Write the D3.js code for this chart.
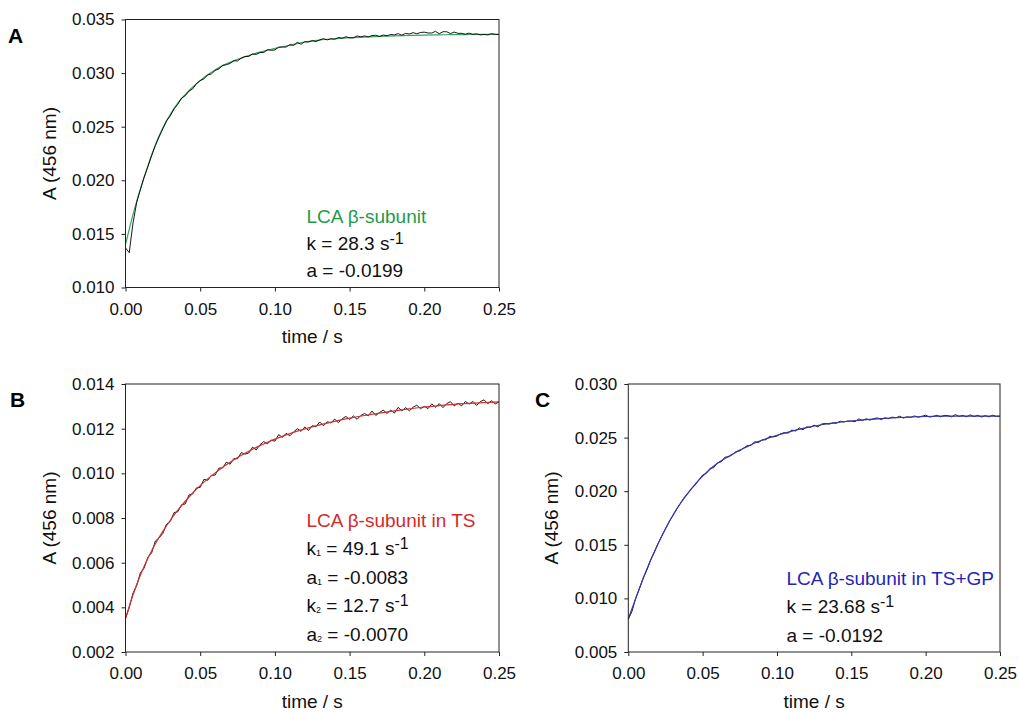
<!DOCTYPE html>
<html>
<head>
<meta charset="utf-8">
<script src="https://cdn.jsdelivr.net/npm/d3@7/dist/d3.min.js"></script>
<style>
  body { margin: 0; background: #fff; }
  svg { display: block; font-family: "Liberation Sans", Arial, sans-serif; }
</style>
</head>
<body>
<script>
// tick values
var xTicks  = [0.00, 0.05, 0.10, 0.15, 0.20, 0.25];
var yTicksA = [0.010, 0.015, 0.020, 0.025, 0.030, 0.035];
var yTicksB = [0.002, 0.004, 0.006, 0.008, 0.010, 0.012, 0.014];
var yTicksC = [0.005, 0.010, 0.015, 0.020, 0.025, 0.030];

// raw traces are sampled every 2.5 ms from t = 0
var rawStep = 0.0025;

var rawA = [.01370,.01325,.01600,.01795,.01915,.02030,.02128,.02232,.02325,.02405,
            .02481,.02555,.02602,.02666,.02709,.02767,.02789,.02832,.02853,.02902,
            .02930,.02946,.02983,.02992,.03025,.03039,.03072,.03078,.03090,.03116,
            .03113,.03140,.03155,.03155,.03179,.03174,.03192,.03192,.03219,.03213,
            .03216,.03242,.03243,.03243,.03266,.03258,.03287,.03269,.03293,.03290,
            .03303,.03294,.03310,.03321,.03310,.03321,.03316,.03332,.03325,.03339,
            .03329,.03329,.03347,.03338,.03347,.03338,.03350,.03353,.03342,.03355,
            .03348,.03360,.03356,.03368,.03354,.03370,.03365,.03377,.03367,.03379,
            .03382,.03374,.03374,.03390,.03367,.03386,.03386,.03368,.03383,.03371,
            .03371,.03363,.03373,.03362,.03366,.03356,.03361,.03356,.03368,.03361,
            .03360];

var rawB = [.00350,.00399,.00463,.00498,.00555,.00576,.00625,.00644,.00697,.00711,
            .00731,.00773,.00785,.00824,.00828,.00859,.00863,.00903,.00908,.00935,
            .00937,.00973,.00969,.00991,.00992,.01023,.01024,.01050,.01041,.01066,
            .01065,.01093,.01086,.01091,.01117,.01105,.01128,.01142,.01132,.01149,
            .01144,.01173,.01161,.01179,.01168,.01185,.01200,.01188,.01207,.01192,
            .01213,.01209,.01230,.01213,.01231,.01226,.01243,.01227,.01244,.01255,
            .01241,.01257,.01242,.01259,.01268,.01257,.01279,.01259,.01272,.01283,
            .01268,.01283,.01270,.01295,.01280,.01294,.01280,.01296,.01305,.01289,
            .01300,.01290,.01311,.01296,.01312,.01294,.01312,.01321,.01302,.01314,
            .01302,.01322,.01310,.01322,.01304,.01321,.01329,.01312,.01325,.01311,
            .01320];

var rawC = [.00805,.00880,.01002,.01092,.01190,.01266,.01358,.01430,.01512,.01580,
            .01649,.01717,.01772,.01832,.01885,.01939,.01978,.02022,.02059,.02106,
            .02151,.02166,.02213,.02220,.02265,.02274,.02317,.02321,.02341,.02370,
            .02376,.02402,.02425,.02426,.02462,.02453,.02479,.02480,.02511,.02506,
            .02514,.02536,.02546,.02542,.02570,.02562,.02591,.02574,.02600,.02596,
            .02616,.02600,.02626,.02632,.02626,.02636,.02634,.02652,.02645,.02655,
            .02654,.02649,.02674,.02660,.02676,.02663,.02676,.02684,.02669,.02684,
            .02677,.02691,.02685,.02699,.02682,.02694,.02689,.02702,.02690,.02699,
            .02709,.02692,.02697,.02708,.02693,.02707,.02705,.02693,.02714,.02698,
            .02707,.02694,.02712,.02696,.02708,.02692,.02705,.02693,.02709,.02697,
            .02700];

// fitted curves
var fitTimes = [0,0.005,0.010,0.015,0.020,0.025,0.030,0.035,0.040,0.045,0.050,
                0.055,0.060,0.065,0.070,0.075,0.080,0.085,0.090,0.095,0.100,
                0.11,0.12,0.13,0.14,0.15,0.16,0.17,0.18,0.19,0.20,0.21,0.22,0.23,0.24,0.25];
var fitA = [.01400,.01680,.01920,.02135,.02330,.02490,.02615,.02720,.02800,.02870,.02930,
            .02985,.03030,.03070,.03100,.03128,.03152,.03175,.03195,.03213,.03230,
            .03260,.03290,.03308,.03320,.03330,.03336,.03342,.03347,.03351,.03355,
            .03357,.03359,.03360,.03361,.03362];
var fitB = [.00350,.00455,.00545,.00620,.00685,.00740,.00790,.00835,.00875,.00912,.00945,
            .00975,.01002,.01027,.01050,.01071,.01090,.01108,.01124,.01139,.01153,
            .01178,.01199,.01217,.01233,.01247,.01259,.01270,.01280,.01289,.01297,
            .01303,.01309,.01313,.01317,.01320];
var fitC = [.00810,.01000,.01185,.01355,.01510,.01650,.01775,.01885,.01980,.02065,.02140,
            .02205,.02260,.02305,.02345,.02383,.02416,.02450,.02475,.02500,.02522,
            .02560,.02593,.02620,.02640,.02655,.02667,.02677,.02685,.02692,.02697,
            .02700,.02701,.02701,.02701,.02700];

// annotation lines: [text, 'sub' | 'sup' | '']
var notesA = [[['LCA β-subunit','']],
              [['k = 28.3 s',''],['-1','sup']],
              [['a = -0.0199','']]];
var notesB = [[['LCA β-subunit in TS','']],
              [['k',''],['1','sub'],[' = 49.1 s',''],['-1','sup']],
              [['a',''],['1','sub'],[' = -0.0083','']],
              [['k',''],['2','sub'],[' = 12.7 s',''],['-1','sup']],
              [['a',''],['2','sub'],[' = -0.0070','']]];
var notesC = [[['LCA β-subunit in TS+GP','']],
              [['k = 23.68 s',''],['-1','sup']],
              [['a = -0.0192','']]];

var svg = d3.select('body').append('svg')
  .attr('width', 1019)
  .attr('height', 713);

var panels = [
  {label:'A', lx:8,   ly:43,  left:125.5, top:19.5, w:373.5, h:268,
   yTicks:yTicksA, raw:rawA, fit:fitA, color:'#1f9a4c', line:'#3aa35e', rawOnTop:true,
   notes:notesA, nx:306.5, ny:[223,250,277]},
  {label:'B', lx:10,  ly:407, left:125.5, top:384,  w:373.5, h:268,
   yTicks:yTicksB, raw:rawB, fit:fitB, color:'#d42a2a', line:'#d03030', rawOnTop:false,
   notes:notesB, nx:306.5, ny:[527,555,583.5,612,641]},
  {label:'C', lx:535, ly:407, left:628.3, top:384,  w:371.7, h:268,
   yTicks:yTicksC, raw:rawC, fit:fitC, color:'#2424b8', line:'#3535b0', rawOnTop:false,
   notes:notesC, nx:786.5, ny:[585,613,642]}
];

panels.forEach(function(p) {
  var g = svg.append('g').attr('transform', 'translate(' + p.left + ',' + p.top + ')');

  var x = d3.scaleLinear().domain([0, 0.25]).range([0, p.w]);
  var y = d3.scaleLinear().domain([p.yTicks[0], p.yTicks[p.yTicks.length - 1]]).range([p.h, 0]);

  // axes (ticks outward)
  var gx = g.append('g').attr('transform', 'translate(0,' + p.h + ')')
    .call(d3.axisBottom(x).tickValues(xTicks).tickSize(4).tickPadding(11).tickFormat(d3.format('.2f')));
  var gy = g.append('g')
    .call(d3.axisLeft(y).tickValues(p.yTicks).tickSize(4).tickPadding(7).tickFormat(d3.format('.3f')));
  [gx, gy].forEach(function(a) {
    a.select('.domain').remove();
    a.selectAll('line').attr('stroke', '#222');
    a.selectAll('text').attr('fill', '#111')
      .style('font-size', '17px').style('font-family', '"Liberation Sans", Arial, sans-serif');
  });

  var rawLine = d3.line()
    .x(function(d, i) { return x(i * rawStep); })
    .y(function(d) { return y(d); });
  var fitLine = d3.line()
    .curve(d3.curveMonotoneX)
    .x(function(d, i) { return x(fitTimes[i]); })
    .y(function(d) { return y(d); });

  function drawRaw() {
    g.append('path').datum(p.raw)
      .attr('d', rawLine)
      .attr('fill', 'none')
      .attr('stroke', '#000')
      .attr('stroke-width', 0.9);
  }
  function drawFit() {
    g.append('path').datum(p.fit)
      .attr('d', fitLine)
      .attr('fill', 'none')
      .attr('stroke', p.line)
      .attr('stroke-width', 1.2);
  }
  if (p.rawOnTop) { drawFit(); drawRaw(); } else { drawRaw(); drawFit(); }

  // frame
  g.append('rect')
    .attr('width', p.w).attr('height', p.h)
    .attr('fill', 'none').attr('stroke', '#222').attr('stroke-width', 1);

  // axis titles
  g.append('text')
    .attr('x', p.w / 2).attr('y', p.h + 55.5)
    .attr('text-anchor', 'middle')
    .style('font-size', '19px').attr('fill', '#111')
    .text('time / s');
  g.append('text')
    .attr('transform', 'translate(-70,' + (p.h / 2) + ') rotate(-90)')
    .attr('text-anchor', 'middle')
    .style('font-size', '19px').attr('fill', '#111')
    .text('A (456 nm)');

  // panel letter
  svg.append('text')
    .attr('x', p.lx).attr('y', p.ly)
    .style('font-size', '21px').style('font-weight', 'bold')
    .text(p.label);

  // annotations
  p.notes.forEach(function(parts, k) {
    var t = svg.append('text')
      .attr('x', p.nx).attr('y', p.ny[k])
      .attr('fill', k === 0 ? p.color : '#111')
      .style('font-size', '19px');
    var shift = 0;
    parts.forEach(function(s) {
      var target = s[1] === 'sup' ? -6 : (s[1] === 'sub' ? 1 : 0);
      var ts = t.append('tspan').attr('dy', target - shift).text(s[0]);
      if (s[1] === 'sup') ts.style('font-size', '16px');
      if (s[1] === 'sub') ts.style('font-size', '9px');
      shift = target;
    });
  });
});
</script>
</body>
</html>
